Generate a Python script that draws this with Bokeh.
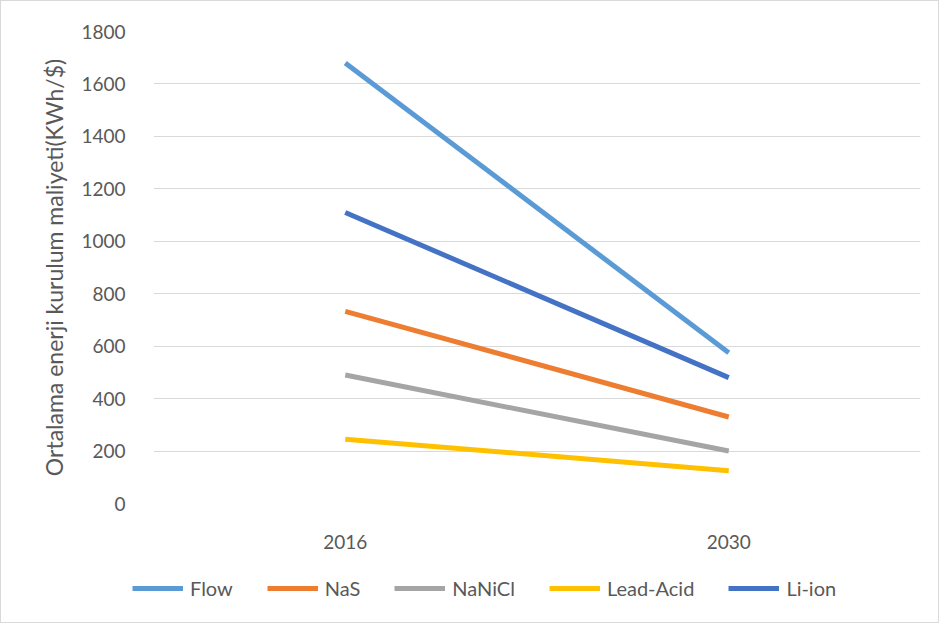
from bokeh.plotting import figure
from bokeh.layouts import column
from bokeh.models import FactorRange, Range1d, Legend, LegendItem, FixedTicker
from bokeh.embed import file_html
from bokeh.resources import INLINE

years = ["2016", "2030"]
flow = [1680, 575]
nas = [733, 330]
nanicl = [490, 200]
lead_acid = [245, 125]
li_ion = [1110, 480]
y_ticks = [0, 200, 400, 600, 800, 1000, 1200, 1400, 1600, 1800]

series = [
    ("Flow", flow, "#5B9BD5"),
    ("NaS", nas, "#ED7D31"),
    ("NaNiCl", nanicl, "#A5A5A5"),
    ("Lead-Acid", lead_acid, "#FFC000"),
    ("Li-ion", li_ion, "#4472C4"),
]

FONT = "Lato"
TXT = "#595959"
W = 937

p = figure(
    width=W, height=560,
    x_range=FactorRange(*years, range_padding=0),
    y_range=Range1d(0, 1800),
    output_backend="svg", toolbar_location=None,
    min_border_left=152, min_border_right=18, min_border_top=30, min_border_bottom=58,
)
p.frame_align = False
p.outline_line_color = None
p.background_fill_color = "white"
p.border_fill_color = "white"

for name, vals, color in series:
    p.line(x=years, y=vals, line_color=color, line_width=5)

p.xgrid.grid_line_color = None
p.ygrid.grid_line_color = "#D9D9D9"
p.ygrid.grid_line_width = 1
p.yaxis.ticker = FixedTicker(ticks=y_ticks)

for ax in (p.xaxis[0], p.yaxis[0]):
    ax.axis_line_color = None
    ax.major_tick_line_color = None
    ax.minor_tick_line_color = None
    ax.major_label_text_font = FONT
    ax.major_label_text_font_size = "19px"
    ax.major_label_text_color = TXT

p.yaxis.major_label_standoff = 22
p.xaxis.major_label_standoff = 25
p.yaxis.axis_label = "Ortalama enerji kurulum maliyeti(KWh/$)"
p.yaxis.axis_label_text_font = FONT
p.yaxis.axis_label_text_font_size = "23px"
p.yaxis.axis_label_text_font_style = "normal"
p.yaxis.axis_label_text_color = TXT
p.yaxis.axis_label_standoff = 10

# legend strip: same series, drawn outside its visible y-range so only the legend shows
lp = figure(
    width=W, height=61,
    x_range=FactorRange(*years, range_padding=0),
    y_range=Range1d(10000, 10001),
    output_backend="svg", toolbar_location=None,
    x_axis_location=None, y_axis_location=None,
    min_border_left=0, min_border_right=0, min_border_top=0, min_border_bottom=0,
)
lp.frame_align = False
lp.outline_line_color = None
lp.xgrid.grid_line_color = None
lp.ygrid.grid_line_color = None
items = []
for name, vals, color in series:
    r = lp.line(x=years, y=vals, line_color=color, line_width=5)
    items.append(LegendItem(label=name, renderers=[r]))

legend = Legend(items=items, orientation="horizontal", location=(131, 22))
legend.label_text_font = FONT
legend.label_text_font_size = "20px"
legend.label_text_color = TXT
legend.glyph_width = 51
legend.glyph_height = 20
legend.label_height = 20
legend.label_standoff = 7
legend.spacing = 34
legend.border_line_color = None
legend.background_fill_alpha = 0
legend.margin = 0
legend.padding = 0
lp.add_layout(legend, "center")

layout = column(p, lp, spacing=0, styles={"border": "1px solid #d9d9d9"})

open("out.html", "w").write(file_html(layout, INLINE))
